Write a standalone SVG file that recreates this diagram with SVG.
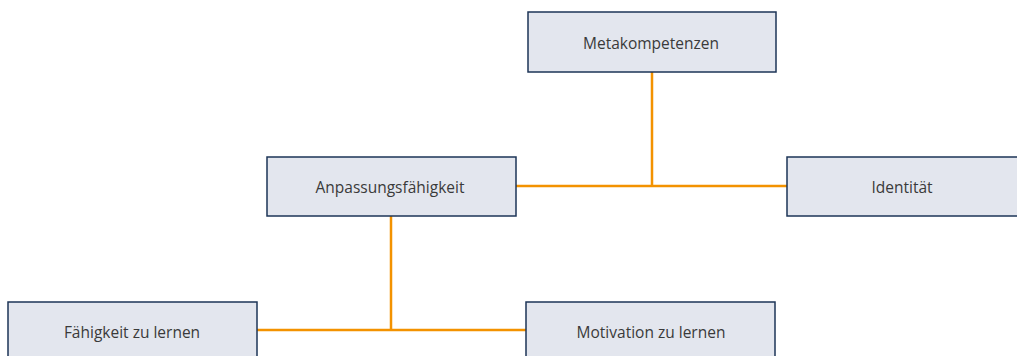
<svg xmlns="http://www.w3.org/2000/svg" width="1017" height="356" viewBox="0 0 1017 356">
<style>
.box{fill:#e3e6ee;stroke:#1d3557;stroke-width:1.5}
.lbl{font-family:"Open Sans","Noto Sans",sans-serif;font-size:15.5px;fill:#3a3a3a;text-anchor:middle;dominant-baseline:central}
.con{stroke:#f39200;stroke-width:2.5;fill:none}
</style>
<rect width="1017" height="356" fill="#ffffff"/>
<g id="connectors">
<path class="con" d="M652 72 V186 M516 186 H787"/>
<path class="con" d="M391 216 V330 M257 330 H526"/>
</g>
<g id="n-meta"><rect class="box" x="528" y="12" width="248" height="60"/><text class="lbl" x="651" y="43">Metakompetenzen</text></g>
<g id="n-anpassung"><rect class="box" x="267" y="157" width="249" height="59"/><text class="lbl" x="390" y="187">Anpassungsfähigkeit</text></g>
<g id="n-identitaet"><rect class="box" x="787" y="157" width="249" height="59"/><text class="lbl" x="902" y="187">Identität</text></g>
<g id="n-faehigkeit"><rect class="box" x="8" y="302" width="249" height="60"/><text class="lbl" x="132" y="332">Fähigkeit zu lernen</text></g>
<g id="n-motivation"><rect class="box" x="526" y="302" width="249" height="60"/><text class="lbl" x="651" y="332">Motivation zu lernen</text></g>
</svg>
